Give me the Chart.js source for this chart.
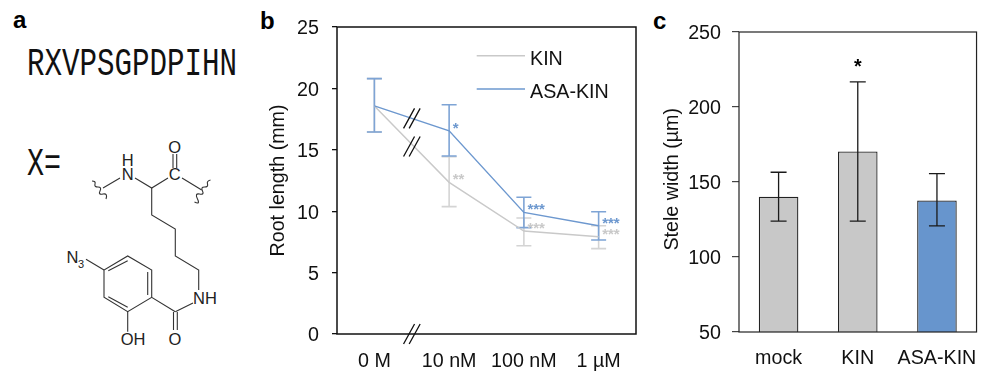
<!DOCTYPE html>
<html>
<head>
<meta charset="utf-8">
<title>Root length and stele width</title>
<script src="https://cdn.jsdelivr.net/npm/chart.js@4"></script>
<style>
  html, body { margin: 0; padding: 0; background: #fff; }
  body { position: relative; width: 984px; height: 371px; overflow: hidden; font-family: "Liberation Sans", Arial, sans-serif; }
  canvas, svg { position: absolute; top: 0; }
  .panel { position: absolute; font-size: 24px; font-weight: bold; line-height: 24px; color: #000; }
  svg text { font-family: "Liberation Sans", Arial, sans-serif; fill: #222; font-size: 16.5px; }
  svg .seq { font-family: "Liberation Mono", monospace; font-size: 38.5px; fill: #111; }
</style>
</head>
<body>
<div class="panel" style="left:13px;top:8px">a</div>
<div class="panel" style="left:260px;top:9px">b</div>
<div class="panel" style="left:653px;top:9px">c</div>

<svg id="structure" width="260" height="371" style="left:0">
  <text class="seq" x="27" y="75" textLength="210" lengthAdjust="spacingAndGlyphs">RXVPSGPDPIHN</text>
  <text class="seq" x="27" y="175" textLength="34" lengthAdjust="spacingAndGlyphs">X=</text>
  <g stroke="#333" stroke-width="1.1" fill="none">
    <path d="M103 188L120 178M135 178L151.7 188L168 178M182 178L201.7 190"/>
    <path d="M173 154V168M176.7 154V168"/>
    <path d="M151.7 188V215L175.3 229V256L198.7 270V290M193 303L175.3 311.7"/>
    <path d="M151.7 297.3V270L127.7 256L104 270V297.3L127.7 311.7L151.7 297.3L175.3 311.7"/>
    <path d="M147.7 272V295M108.3 270.7L127.7 260.7M108.3 296.7L127.7 307.3"/>
    <path d="M104 270L86 259.3M127.7 311.7V331.7M173.5 312V330M177.3 312V330"/>
    <path d="M92 181q4 0 3 3t3 3t2 4t3 3t3 5"/>
    <path d="M210.5 180q-4 1 -3 4t-3 3t-2 4t-3 3t-2 5t-3 3"/>
  </g>
  <text x="127.7" y="166" text-anchor="middle">H</text>
  <text x="127.7" y="180" text-anchor="middle">N</text>
  <text x="174.7" y="180" text-anchor="middle">C</text>
  <text x="174.7" y="153" text-anchor="middle">O</text>
  <text x="205" y="304" text-anchor="middle">NH</text>
  <text x="175" y="345" text-anchor="middle">O</text>
  <text x="133" y="345" text-anchor="middle">OH</text>
  <text x="66.5" y="263">N</text>
  <text x="78" y="268" style="font-size:11px">3</text>
</svg>

<canvas id="rootChart" width="390" height="371" style="left:260px"></canvas>
<canvas id="steleChart" width="334" height="371" style="left:650px"></canvas>

<script>
const concentrations = ["0 M", "10 nM", "100 nM", "1 µM"];
const kinLength = [18.57, 12.35, 8.39, 7.92];
const kinLower = [16.45, 10.37, 7.19, 6.95];
const kinUpper = [20.8, 14.44, 9.45, 8.82];
const kinStars = ["", "**", "***", "***"];
const asaLength = [18.57, 16.55, 9.9, 8.82];
const asaLower = [16.45, 14.5, 8.66, 7.65];
const asaUpper = [20.8, 18.67, 11.13, 9.96];
const asaStars = ["", "*", "***", "***"];
const breakValues = [17.56, 15.27, 0]; // where the // marks sit on the axis gap

const treatments = ["mock", "KIN", "ASA-KIN"];
const steleWidth = [140.2, 170.3, 137.7];
const steleLower = [123.9, 123.9, 120.8];
const steleUpper = [156.5, 216.8, 155.6];
const steleStars = ["", "*", ""];

const FONT = '"Liberation Sans", Arial, sans-serif';
const GREY = "#c9c9c9";
const BLUE = "#6d98cf";
const BAR_BLUE = "#6795cd";
const TEXT = "#111";

Chart.defaults.font.family = FONT;
Chart.defaults.font.size = 19.7;
Chart.defaults.color = TEXT;
Chart.defaults.animation = false;
Chart.defaults.responsive = false;
Chart.defaults.devicePixelRatio = 1;

// y tick labels sit about 2px lower than canvas "middle" gives: an empty first
// line with a 4px line height pushes the number down
const lowerLabel = v => ["", String(v)];

function errorBars(chart, x, lower, upper, color, width, capHalf) {
  const ctx = chart.ctx, y = chart.scales.y;
  ctx.save();
  ctx.strokeStyle = color;
  ctx.lineWidth = width;
  x.forEach((px, i) => {
    const lo = y.getPixelForValue(lower[i]), hi = y.getPixelForValue(upper[i]);
    ctx.beginPath();
    ctx.moveTo(px, lo); ctx.lineTo(px, hi);
    ctx.moveTo(px - capHalf, lo); ctx.lineTo(px + capHalf, lo);
    ctx.moveTo(px - capHalf, hi); ctx.lineTo(px + capHalf, hi);
    ctx.stroke();
  });
  ctx.restore();
}

function box(chart, color, width) {
  const a = chart.chartArea, ctx = chart.ctx;
  ctx.save();
  ctx.strokeStyle = color;
  ctx.lineWidth = width;
  ctx.strokeRect(a.left, a.top, a.right - a.left, a.bottom - a.top);
  ctx.restore();
}

const rootExtras = {
  id: "rootExtras",
  beforeDatasetsDraw(chart) {
    const x = concentrations.map((c, i) => chart.scales.x.getPixelForValue(i));
    errorBars(chart, x, kinLower, kinUpper, "#d4d4d4", 1.6, 7.5);
    errorBars(chart, x, asaLower, asaUpper, "#7ea4d5", 1.6, 7.5);
  },
  afterDatasetsDraw(chart) {
    const ctx = chart.ctx, sx = chart.scales.x, sy = chart.scales.y;
    box(chart, "#111", 1.5);

    // significance stars, just right of each point
    ctx.save();
    ctx.font = "bold 15px " + FONT;
    ctx.textBaseline = "alphabetic";
    ctx.fillStyle = GREY;
    kinStars.forEach((s, i) => ctx.fillText(s, sx.getPixelForValue(i) + 3.5, sy.getPixelForValue(kinLength[i]) + 2));
    ctx.fillStyle = BLUE;
    asaStars.forEach((s, i) => ctx.fillText(s, sx.getPixelForValue(i) + 3.5, sy.getPixelForValue(asaLength[i]) + 2));
    ctx.restore();

    // axis break marks between 0 M and 10 nM
    const mid = (sx.getPixelForValue(0) + sx.getPixelForValue(1)) / 2;
    ctx.save();
    ctx.strokeStyle = "#111";
    ctx.lineWidth = 1.3;
    breakValues.forEach(v => {
      const py = sy.getPixelForValue(v);
      ctx.beginPath();
      ctx.moveTo(mid - 8.2, py + 10); ctx.lineTo(mid + 2.8, py - 10);
      ctx.moveTo(mid - 2.6, py + 10); ctx.lineTo(mid + 8.4, py - 10);
      ctx.stroke();
    });
    ctx.restore();

    // legend inside the plot
    const a = chart.chartArea;
    ctx.save();
    ctx.font = "19.7px " + FONT;
    ctx.textBaseline = "alphabetic";
    chart.data.datasets.forEach((d, i) => {
      const ly = a.top + 28.7 + i * 33.3;
      ctx.strokeStyle = d.borderColor;
      ctx.lineWidth = 1.4;
      ctx.beginPath();
      ctx.moveTo(a.left + 139.7, ly); ctx.lineTo(a.left + 188, ly);
      ctx.stroke();
      ctx.fillStyle = TEXT;
      ctx.fillText(d.label, a.left + 193, ly + 9);
    });
    ctx.restore();
  }
};

new Chart(document.getElementById("rootChart"), {
  type: "line",
  data: {
    labels: concentrations,
    datasets: [
      { label: "KIN", data: kinLength, borderColor: GREY, borderWidth: 1.4, pointRadius: 0, tension: 0, order: 2 },
      { label: "ASA-KIN", data: asaLength, borderColor: BLUE, borderWidth: 1.4, pointRadius: 0, tension: 0, order: 1 }
    ]
  },
  options: {
    layout: { padding: { top: 27, right: 14 } },
    plugins: { legend: { display: false }, tooltip: { enabled: false } },
    scales: {
      x: {
        offset: true,
        afterFit(s) { s.height = 37; },
        grid: { display: false },
        border: { display: false },
        ticks: { padding: 8, maxRotation: 0, autoSkip: false, color: TEXT }
      },
      y: {
        min: 0, max: 25,
        afterFit(s) { s.width = 77; },
        grid: { drawOnChartArea: false, drawTicks: true, tickLength: 5, color: "#111", lineWidth: 1.3 },
        border: { display: false },
        ticks: { stepSize: 5, padding: 13, color: TEXT, callback: lowerLabel, font: { lineHeight: "4px" } },
        title: { display: true, text: "Root length (mm)", color: TEXT, padding: { top: 7, bottom: 0 }, font: { size: 19.7 } }
      }
    }
  },
  plugins: [rootExtras]
});

const steleExtras = {
  id: "steleExtras",
  afterDatasetsDraw(chart) {
    const ctx = chart.ctx, sx = chart.scales.x, sy = chart.scales.y;
    const x = treatments.map((t, i) => sx.getPixelForValue(i));
    box(chart, "#222", 1.2);
    errorBars(chart, x, steleLower, steleUpper, "#1a1a1a", 1.3, 8);
    ctx.save();
    ctx.font = "bold 19.7px " + FONT;
    ctx.fillStyle = "#000";
    ctx.textAlign = "center";
    ctx.textBaseline = "alphabetic";
    steleStars.forEach((s, i) => ctx.fillText(s, x[i], sy.getPixelForValue(steleUpper[i]) - 9));
    ctx.restore();
  }
};

new Chart(document.getElementById("steleChart"), {
  type: "bar",
  data: {
    labels: treatments,
    datasets: [{
      data: steleWidth,
      backgroundColor: ["#c8c8c8", "#c8c8c8", BAR_BLUE],
      borderColor: "#222",
      borderWidth: 1.3,
      barPercentage: 0.5,
      categoryPercentage: 1
    }]
  },
  options: {
    layout: { padding: { top: 32, right: 4 } },
    plugins: { legend: { display: false }, tooltip: { enabled: false } },
    scales: {
      x: {
        afterFit(s) { s.height = 39; },
        grid: { display: false },
        border: { display: false },
        ticks: { padding: 7, maxRotation: 0, autoSkip: false, color: TEXT }
      },
      y: {
        min: 50, max: 250,
        afterFit(s) { s.width = 89; },
        grid: { drawOnChartArea: false, drawTicks: true, tickLength: 7, color: "#444", lineWidth: 1.2 },
        border: { display: false },
        ticks: { stepSize: 50, padding: 11, color: TEXT, callback: lowerLabel, font: { lineHeight: "4px" } },
        title: { display: true, text: " Stele width (µm)", color: TEXT, padding: { top: 11, bottom: 0 }, font: { size: 19.7 } }
      }
    }
  },
  plugins: [steleExtras]
});
</script>
</body>
</html>
